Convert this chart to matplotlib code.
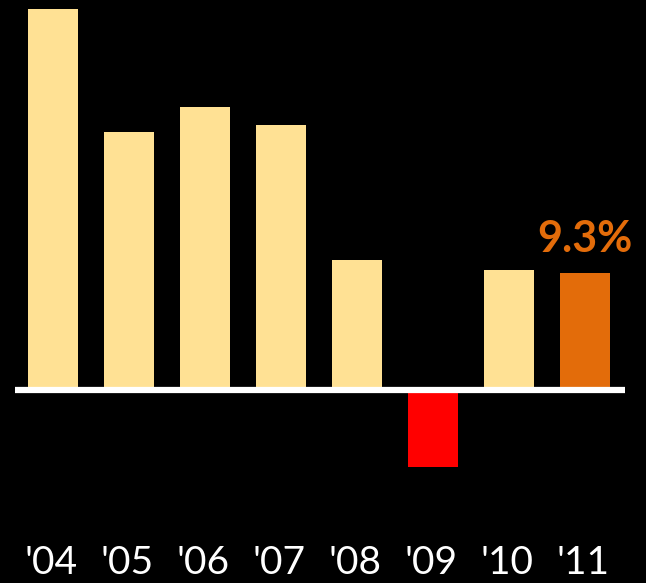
import matplotlib.pyplot as plt

years = ["'04", "'05", "'06", "'07", "'08", "'09", "'10", "'11"]
growth = [30.3, 20.5, 22.5, 21.1, 10.3, -6.1, 9.5, 9.3]
highlight_label = "9.3%"

colors = []
for i, v in enumerate(growth):
    if i == len(growth) - 1:
        colors.append("#E36C0A")
    elif v < 0:
        colors.append("#FF0000")
    else:
        colors.append("#FFE194")

fig = plt.figure(figsize=(6.46, 5.83), dpi=100, facecolor="black")
ax = fig.add_axes([0, 0, 1, 1])
ax.set_facecolor("black")

x = list(range(len(years)))
ax.bar(x, growth, width=0.67, color=colors, zorder=2)
ax.plot([-0.5, 7.53], [0, 0], color="white", lw=4.5, solid_capstyle="butt", zorder=3)

for i, yr in enumerate(years):
    ax.text(i - 0.02, -13.75, yr, color="white", fontsize=28, family="Lato",
            ha="center", va="center")

ax.text(x[-1], growth[-1] + 2.7, highlight_label, color="#E36C0A",
        fontsize=31, fontweight="bold", family="Lato", ha="center", va="center")

ax.set_xlim(-0.697, 7.803)
ax.set_ylim(-15.34, 31.0)
ax.axis("off")

fig.savefig("out.png", dpi=100, facecolor="black")
